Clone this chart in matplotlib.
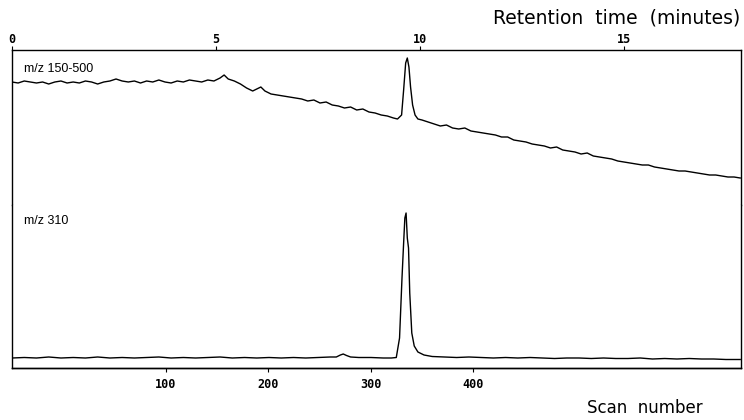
import matplotlib
matplotlib.use("Agg")
import matplotlib.pyplot as plt
import numpy as np

# ---- data ----
# upper trace: m/z 150-500 (total ion current, arbitrary units) vs retention time (min)
tic_min = [0.00, 0.15, 0.30, 0.45, 0.60, 0.75, 0.90, 1.05, 1.20, 1.35, 1.50, 1.65, 1.80, 1.95,
           2.10, 2.25, 2.40, 2.55, 2.70, 2.85, 3.00, 3.15, 3.30, 3.45, 3.60, 3.75, 3.90, 4.05,
           4.20, 4.35, 4.50, 4.65, 4.80, 4.95, 5.10, 5.20, 5.30, 5.45, 5.60, 5.75, 5.90, 6.00,
           6.10, 6.20, 6.35, 6.50, 6.65, 6.80, 6.95, 7.10, 7.25, 7.40, 7.55, 7.70, 7.85, 8.00,
           8.15, 8.30, 8.45, 8.60, 8.75, 8.90, 9.05, 9.20, 9.35, 9.45, 9.55, 9.60, 9.65, 9.69,
           9.73, 9.77, 9.82, 9.88, 9.95, 10.05, 10.20, 10.35, 10.50, 10.65, 10.80, 10.95, 11.10,
           11.25, 11.40, 11.55, 11.70, 11.85, 12.00, 12.15, 12.30, 12.45, 12.60, 12.75, 12.90,
           13.05, 13.20, 13.35, 13.50, 13.65, 13.80, 13.95, 14.10, 14.25, 14.40, 14.55, 14.70,
           14.85, 15.00, 15.15, 15.30, 15.45, 15.60, 15.75, 15.90, 16.05, 16.20, 16.35, 16.50,
           16.65, 16.80, 16.95, 17.10, 17.25, 17.40, 17.55, 17.70, 17.85]
tic_val = [123, 122, 124, 123, 122, 123, 121, 123, 124, 122, 123, 122, 124, 123,
           121, 123, 124, 126, 124, 123, 124, 122, 124, 123, 125, 123, 122, 124,
           123, 125, 124, 123, 125, 124, 127, 130, 126, 124, 121, 117, 114, 116,
           118, 114, 111, 110, 109, 108, 107, 106, 104, 105, 102, 103, 100, 99,
           97, 98, 95, 96, 93, 92, 90, 89, 87, 86, 90, 115, 142, 147,
           138, 118, 100, 90, 86, 85, 83, 81, 79, 80, 77, 76, 77,
           74, 73, 72, 71, 70, 68, 68, 65, 64, 63, 61, 60,
           59, 57, 58, 55, 54, 53, 51, 52, 49, 48, 47, 46,
           44, 43, 42, 41, 40, 40, 38, 37, 36, 35, 34, 34,
           33, 32, 31, 30, 30, 29, 28, 28, 27]

# lower trace: m/z 310 single-ion chromatogram
sic_min = [0.0, 0.3, 0.6, 0.9, 1.2, 1.5, 1.8, 2.1, 2.4, 2.7, 3.0, 3.3, 3.6, 3.9, 4.2, 4.5,
           4.8, 5.1, 5.4, 5.7, 6.0, 6.3, 6.6, 6.9, 7.2, 7.5, 7.8, 7.95, 8.05, 8.12, 8.2,
           8.3, 8.5, 8.8, 9.1, 9.3, 9.42, 9.50, 9.56, 9.60, 9.63, 9.66, 9.69, 9.72, 9.75,
           9.80, 9.86, 9.95, 10.1, 10.3, 10.6, 10.9, 11.2, 11.5, 11.8, 12.1, 12.4, 12.7,
           13.0, 13.3, 13.6, 13.9, 14.2, 14.5, 14.8, 15.1, 15.4, 15.7, 16.0, 16.3, 16.6,
           16.9, 17.2, 17.5, 17.85]
sic_val = [10, 10.5, 10, 11, 10, 10.5, 10, 11, 10, 10.5, 10, 10.5, 11, 10, 10.5, 10,
           10.5, 11, 10, 10.5, 10, 10.5, 10, 10.5, 10, 10.5, 11, 11, 13, 14, 12.5,
           11, 10.5, 10.5, 10, 10, 10.5, 30, 90, 125, 150, 155, 130, 120, 75,
           35, 22, 16, 13, 11.5, 11, 10.5, 11, 10.5, 10, 10.5, 10, 10.5,
           10, 9.5, 10, 10, 9.5, 10, 9.5, 9.5, 10, 9, 9.5, 9, 9.5,
           9, 9, 8.5, 8.5]

minute_ticks = [0, 5, 10, 15]
minute_labels = ["0", "5", "10", "15"]
scan_ticks = [100, 200, 300, 400]
scan_labels = ["100", "200", "300", "400"]
scan_offset_min = 1.267      # retention time of scan 0 (min)
scan_step_min = 0.02508      # minutes per scan
xmax_min = 17.87

W, H = 744, 420
fig = plt.figure(figsize=(W / 100, H / 100), dpi=100)

x0, x1 = 12, 741
y_top, y_mid, y_bot = 50, 205, 368

def ax_rect(ytop, ybot):
    return [x0 / W, 1 - ybot / H, (x1 - x0) / W, (ybot - ytop) / H]

ax_t = fig.add_axes(ax_rect(y_top, y_mid))
ax_b = fig.add_axes(ax_rect(y_mid, y_bot))

lw = 1.0
for ax in (ax_t, ax_b):
    ax.set_xlim(0, xmax_min)
    ax.set_yticks([])
    for s in ax.spines.values():
        s.set_linewidth(lw)
ax_t.spines["bottom"].set_visible(False)
ax_b.spines["top"].set_visible(False)

ax_t.set_ylim(0, 155)
ax_b.set_ylim(0, 163)

ax_t.plot(tic_min, tic_val, color="black", lw=1.0)
ax_b.plot(sic_min, sic_val, color="black", lw=1.0)

# top axis: retention time in minutes
ax_t.xaxis.set_ticks_position("top")
ax_t.set_xticks(minute_ticks)
ax_t.set_xticklabels(minute_labels, family="DejaVu Sans Mono", fontsize=8.5, fontweight="bold")
ax_t.tick_params(axis="x", direction="out", length=3, width=0.8, pad=0)
ax_b.set_xticks([])

# bottom axis: scan number
sec = ax_b.secondary_xaxis(
    "bottom",
    functions=(lambda m: (m - scan_offset_min) / scan_step_min,
               lambda s: scan_offset_min + s * scan_step_min))
sec.set_xticks(scan_ticks)
sec.set_xticklabels(scan_labels, family="DejaVu Sans Mono", fontsize=8.5, fontweight="bold")
sec.tick_params(axis="x", direction="out", length=3, width=0.8, pad=4)
sec.spines["bottom"].set_linewidth(lw)

ax_t.text(0.016, 0.88, "m/z 150-500", transform=ax_t.transAxes,
          family="Liberation Sans", fontsize=9, va="center", ha="left")
ax_b.text(0.016, 0.90, "m/z 310", transform=ax_b.transAxes,
          family="Liberation Sans", fontsize=9, va="center", ha="left")

fig.text(740 / W, 1 - 18 / H, "Retention  time  (minutes)", ha="right", va="center",
         family="DejaVu Sans", fontsize=13.5)
fig.text(645 / W, 1 - 408 / H, "Scan  number", ha="center", va="center",
         family="DejaVu Sans", fontsize=12)

fig.savefig("out.png", dpi=100)
